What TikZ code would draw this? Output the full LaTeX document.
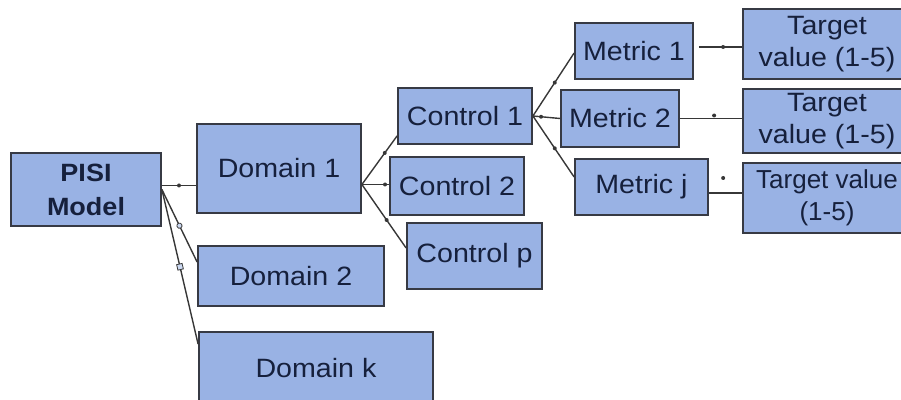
\documentclass[tikz,border=0pt]{standalone}
\usepackage{fontspec}
\setmainfont{Liberation Sans}[FakeStretch=1.08]
\newfontfamily\narrowface{Liberation Sans}
\usetikzlibrary{decorations.markings,calc}

\definecolor{boxfill}{RGB}{153,178,228}
\definecolor{boxedge}{RGB}{55,58,68}
\definecolor{inkblue}{RGB}{22,32,60}
\definecolor{wire}{RGB}{55,55,55}

\tikzset{
  card/.style={draw=boxedge, line width=1.8pt, fill=boxfill, text=inkblue,
    inner sep=0pt, align=center, font=\fontsize{26.5}{32}\selectfont},
  link/.style={draw=wire, line width=1.4pt},
  dot at/.style 2 args={postaction={decorate,decoration={markings,
    mark=at position #1 with {\fill[wire] (0,#2) circle (2pt);}}}},
  ring at/.style={postaction={decorate,decoration={markings,
    mark=at position #1 with {\filldraw[fill=boxfill!50!white,draw=wire,line width=0.8pt] (0,0) circle (2.6pt);}}}},
  square at/.style={postaction={decorate,decoration={markings,
    mark=at position #1 with {\filldraw[fill=boxfill!50!white,draw=wire,line width=0.8pt] (-2.8pt,-2.8pt) rectangle (2.8pt,2.8pt);}}}},
}

\begin{document}
\begin{tikzpicture}[x=1pt,y=1pt]
\useasboundingbox (0,0) rectangle (901,399);
\clip (0,0) rectangle (901,399);

% model and domains
\node[card, minimum width=150pt, minimum height=73pt,
      font=\bfseries\fontsize{25}{34}\selectfont] (pisi) at (86,209.5) {PISI\\Model};
\node[card, minimum width=164pt, minimum height=89pt] (dom1) at (279,230.5) {Domain 1};
\node[card, minimum width=186pt, minimum height=60pt] (dom2) at (291,123) {Domain 2};
\node[card, minimum width=234pt, minimum height=72pt] (domk) at (316,31) {Domain k};

% controls
\node[card, minimum width=134pt, minimum height=56pt] (ctl1) at (465,283) {Control 1};
\node[card, minimum width=134pt, minimum height=58pt] (ctl2) at (457,213) {Control 2};
\node[card, minimum width=135pt, minimum height=66pt] (ctlp) at (474.5,143) {Control p};

% metrics
\node[card, minimum width=118pt, minimum height=56pt] (m1) at (634,348) {Metric 1};
\node[card, minimum width=118pt, minimum height=57pt] (m2) at (620,280.5) {Metric 2};
\node[card, minimum width=133pt, minimum height=56pt] (mj) at (641.5,212) {Metric j};

% target values
\node[card, minimum width=168pt, minimum height=70pt] (t1) at (827,355) {Target\\value (1-5)};
\node[card, minimum width=168pt, minimum height=64pt] (t2) at (827,278) {Target\\value (1-5)};
\node[card, minimum width=168pt, minimum height=70pt,
      font=\narrowface\fontsize{26}{32}\selectfont] (t3) at (827,201) {Target value\\(1-5)};

% model -> domains
\draw[link, dot at={0.5}{0pt}] ([yshift=4pt]pisi.east) -- ([yshift=4pt]pisi.east -| dom1.west);
\draw[link, ring at=0.5] (pisi.east) -- ([yshift=14pt]dom2.west);
\draw[link, square at=0.5] (pisi.east) -- ([yshift=-13pt]domk.north west);

% domain 1 -> controls
\coordinate (fan1) at ([yshift=-16pt]dom1.east);
\draw[link, dot at={0.65}{0pt}] (fan1) -- ([yshift=9pt]ctl1.south west);
\draw[link, dot at={0.85}{0pt}] (fan1) -- (fan1 -| ctl2.west);
\draw[link, dot at={0.56}{0pt}] (fan1) -- ([yshift=8pt]ctlp.west);

% control 1 -> metrics
\coordinate (fan2) at (ctl1.east);
\draw[link, dot at={0.53}{0pt}] (fan2) -- ([yshift=-2pt]m1.west);
\draw[link, dot at={0.3}{0pt}] (fan2) -- (m2.west);
\draw[link, dot at={0.53}{0pt}] (fan2) -- ([yshift=10pt]mj.west);

% metrics -> target values
\draw[link, dot at={0.56}{0pt}] ([shift={(5pt,4pt)}]m1.east) -- ([yshift=4pt]m1.east -| t1.west);
\draw[link, dot at={0.55}{3pt}] (m2.east) -- (m2.east -| t2.west);
\draw[link, dot at={0.43}{15pt}] ([yshift=-6pt]mj.east) -- ([yshift=-6pt]mj.east -| t3.west);
\end{tikzpicture}
\end{document}
